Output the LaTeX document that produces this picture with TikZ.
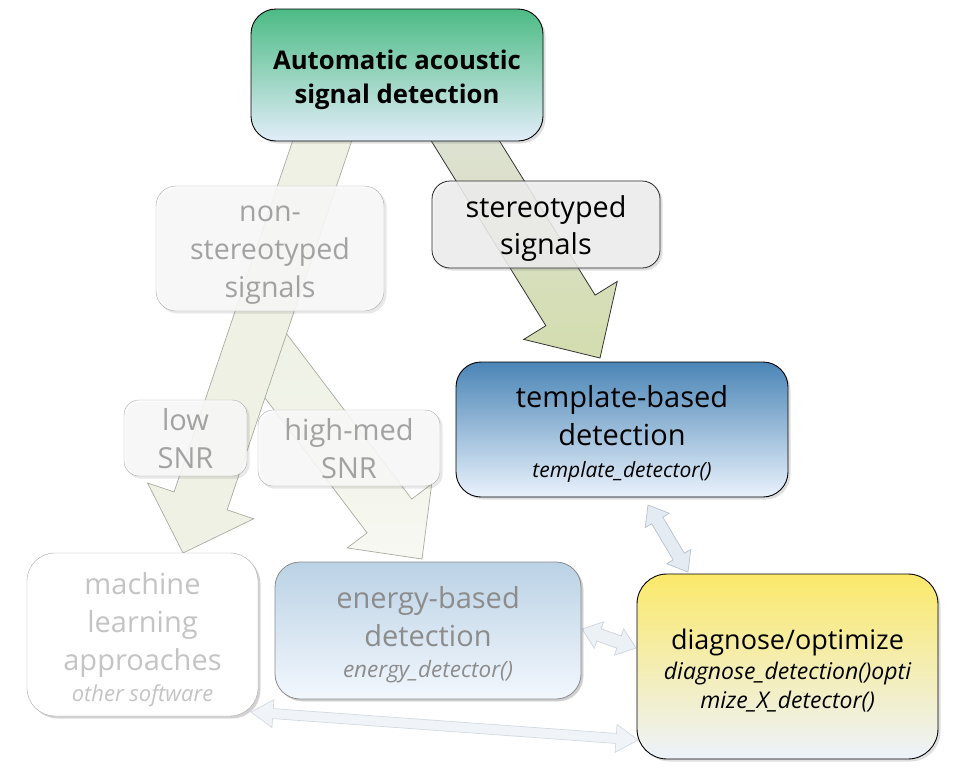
\documentclass[tikz,border=0pt]{standalone}
\usepackage{fontspec}
\setmainfont{Open Sans}
\usetikzlibrary{calc,shadows}
\pgfdeclarelayer{bg}
\pgfdeclarelayer{shad}
\pgfsetlayers{bg,shad,main}

\definecolor{greentop}{HTML}{4CBB85}
\definecolor{bluebot}{HTML}{E2EDF9}
\definecolor{tpltop}{HTML}{4A85B6}
\definecolor{tplbot}{HTML}{EAF2FC}
\definecolor{engtop}{HTML}{BBD2E5}
\definecolor{engbot}{HTML}{F2F7FD}
\definecolor{diagtop}{HTML}{FBE96A}
\definecolor{diagbot}{HTML}{EDF2FB}
\definecolor{fadetext}{HTML}{A2A2A2}
\definecolor{engtext}{HTML}{8C8C8C}
\definecolor{mltext}{HTML}{C4C4C4}
\definecolor{fadebox}{HTML}{FAFAFA}
\definecolor{fadeline}{HTML}{ABABAB}
\definecolor{arrfill}{HTML}{EEF1E4}
\definecolor{arrline}{HTML}{A8ACA0}
\definecolor{arr3top}{HTML}{E0E2DA}
\definecolor{arr3bot}{HTML}{D3DDAE}
\definecolor{dblfill}{HTML}{E4EBF2}
\definecolor{dblline}{HTML}{B6C2CE}

\newcommand\blockarrow[7]{%
  \coordinate (#7n) at ($(#3)!#6!(#2)$);
  \path[#1] ($(#2)!#4!90:(#3)$) -- ($(#7n)!#4!90:(#3)$) -- ($(#7n)!#5!90:(#3)$)
    -- (#3) -- ($(#7n)!#5!-90:(#3)$) -- ($(#7n)!#4!-90:(#3)$) -- ($(#2)!#4!-90:(#3)$) -- cycle;
}
\newcommand\dblarrow[7]{%
  \coordinate (#7na) at ($(#2)!#6!(#3)$);
  \coordinate (#7nb) at ($(#3)!#6!(#2)$);
  \path[#1] (#2) -- ($(#7na)!#5!90:(#3)$) -- ($(#7na)!#4!90:(#3)$)
    -- ($(#7nb)!#4!-90:(#2)$) -- ($(#7nb)!#5!-90:(#2)$) -- (#3)
    -- ($(#7nb)!#5!90:(#2)$) -- ($(#7nb)!#4!90:(#2)$)
    -- ($(#7na)!#4!-90:(#3)$) -- ($(#7na)!#5!-90:(#3)$) -- cycle;
}
\newcommand\subit[1]{\itshape\fontsize{#1}{#1}\selectfont}
\newcommand\softshadow[2]{%
  \fill[black, fill opacity=0.09, rounded corners=#2]
    ($(#1.north west)+(2.5,2.5)$) rectangle ($(#1.south east)+(2.5,2.5)$);
}

\tikzset{
  box/.style={rectangle, inner sep=0pt,
    drop shadow={shadow xshift=2.5pt, shadow yshift=-2.5pt, opacity=0.25}},
  txt/.style={align=center, inner sep=0pt, font=\fontsize{29}{38}\selectfont},
  fadedbox/.style={rectangle, inner sep=0pt, draw=fadeline, fill=fadebox, fill opacity=0.88,
    rounded corners=20pt},
  bigarrow/.style={fill=arrfill, draw=arrline, line width=0.7pt, line join=miter},
  dbl/.style={fill=dblfill, draw=dblline, line width=0.7pt},
}

\begin{document}
\begin{tikzpicture}[x=1pt,y=-1pt]
\useasboundingbox (0,0) rectangle (964,782);

% ---------- boxes ----------
\node[box, draw=black, line width=0.9pt, rounded corners=25pt, top color=greentop, bottom color=bluebot,
  minimum width=292pt, minimum height=132pt] (top) at (397,75) {};
\node[fadedbox, minimum width=228pt, minimum height=125pt] (nonst) at (270,248.5) {};
\node[box, draw=black!85, line width=0.8pt, fill=black!6, fill opacity=0.85,
  rounded corners=18pt, minimum width=228pt, minimum height=87pt] (st) at (546,224.5) {};
\node[box, draw=black, line width=0.9pt, rounded corners=25pt, top color=tpltop, bottom color=tplbot,
  minimum width=332pt, minimum height=135pt] (tpl) at (622,429.5) {};
\node[fadedbox, rounded corners=15pt, minimum width=123pt, minimum height=76pt] (low) at (185.5,438) {};
\node[fadedbox, rounded corners=15pt, minimum width=182pt, minimum height=76pt] (high) at (349,448) {};
\node[box, draw=fadeline, fill=white, rounded corners=28pt, minimum width=231pt, minimum height=163pt,
  drop shadow={shadow xshift=2pt, shadow yshift=-2pt, opacity=0.15}] (ml) at (142.5,634.5) {};
\node[box, draw=black!45, line width=0.8pt, rounded corners=25pt, top color=engtop, bottom color=engbot,
  minimum width=306pt, minimum height=137pt,
  drop shadow={shadow xshift=2pt, shadow yshift=-2pt, opacity=0.18}] (eng) at (428,630.5) {};
\node[box, draw=black, line width=0.9pt, rounded corners=30pt, top color=diagtop, bottom color=diagbot,
  minimum width=301pt, minimum height=185pt] (diag) at (787.5,666.5) {};

% ---------- texts ----------
\node[txt, font=\bfseries\fontsize{25.7}{34}\selectfont] (top-t) at ($(top)+(0,5)$)
  {Automatic acoustic\\signal detection};
\node[txt, text=fadetext, font=\fontsize{28.6}{38}\selectfont] (nonst-t) at ($(nonst)+(0,7)$)
  {non-\\stereotyped\\signals};
\node[txt, font=\fontsize{28.8}{37}\selectfont] (st-t) at ($(st)+(0,4.5)$) {stereotyped\\signals};
\node[txt] (tpl-t) at ($(tpl)+(0,4)$)
  {template-based\\detection\\[-6pt]\subit{21}template\_detector()};
\node[txt, text=fadetext] (low-t) at ($(low)+(0,0.5)$) {low\\SNR};
\node[txt, text=fadetext] (high-t) at ($(high)+(0,1)$) {high-med\\SNR};
\node[txt, text=mltext] (ml-t) at ($(ml)+(0,5)$)
  {machine\\learning\\approaches\\[-7pt]\subit{22}other software};
\node[txt, text=engtext] (eng-t) at ($(eng)+(0,4.5)$)
  {energy-based\\detection\\[-7pt]\subit{22.5}energy\_detector()};
\node[txt, font=\fontsize{27}{29}\selectfont] (diag-t) at ($(diag)+(0,4.5)$)
  {diagnose/optimize\\[1pt]\subit{23}diagnose\_detection()opti\\\subit{23}mize\_X\_detector()};

% ---------- connector end points ----------
\coordinate (s1) at (336,100);  \coordinate (t1) at (183,553);
\coordinate (s2) at (260,345);  \coordinate (t2) at (422,559);
\coordinate (s3) at (440,100);  \coordinate (t3) at (600,358);
\coordinate (d1a) at (648,505); \coordinate (d1b) at (688,572);
\coordinate (d2a) at (582,629); \coordinate (d2b) at (636,648);
\coordinate (d3a) at (251,712); \coordinate (d3b) at (638,740);

\begin{pgfonlayer}{shad}
  \softshadow{nonst}{20pt}
  \softshadow{low}{15pt}
  \softshadow{high}{15pt}
\end{pgfonlayer}

\begin{pgfonlayer}{bg}
  \dblarrow{dbl}{d1a}{d1b}{6.5pt}{14pt}{18pt}{da}
  \dblarrow{dbl, fill=dblfill!70, draw=dblline!70}{d2a}{d2b}{6.5pt}{14pt}{18pt}{db}
  \dblarrow{dbl, fill=dblfill!55, draw=dblline!60}{d3a}{d3b}{5pt}{14pt}{22pt}{dc}
  \blockarrow{bigarrow, top color=arrfill, bottom color=arrfill!50}{s2}{t2}{28pt}{53pt}{54pt}{ab}
  \blockarrow{bigarrow}{s1}{t1}{28pt}{56pt}{55pt}{aa}
  \blockarrow{bigarrow, draw=black!80, line width=0.8pt, top color=arr3top,
    bottom color=arr3bot}{s3}{t3}{29pt}{55pt}{56pt}{ac}
\end{pgfonlayer}
\end{tikzpicture}
\end{document}
